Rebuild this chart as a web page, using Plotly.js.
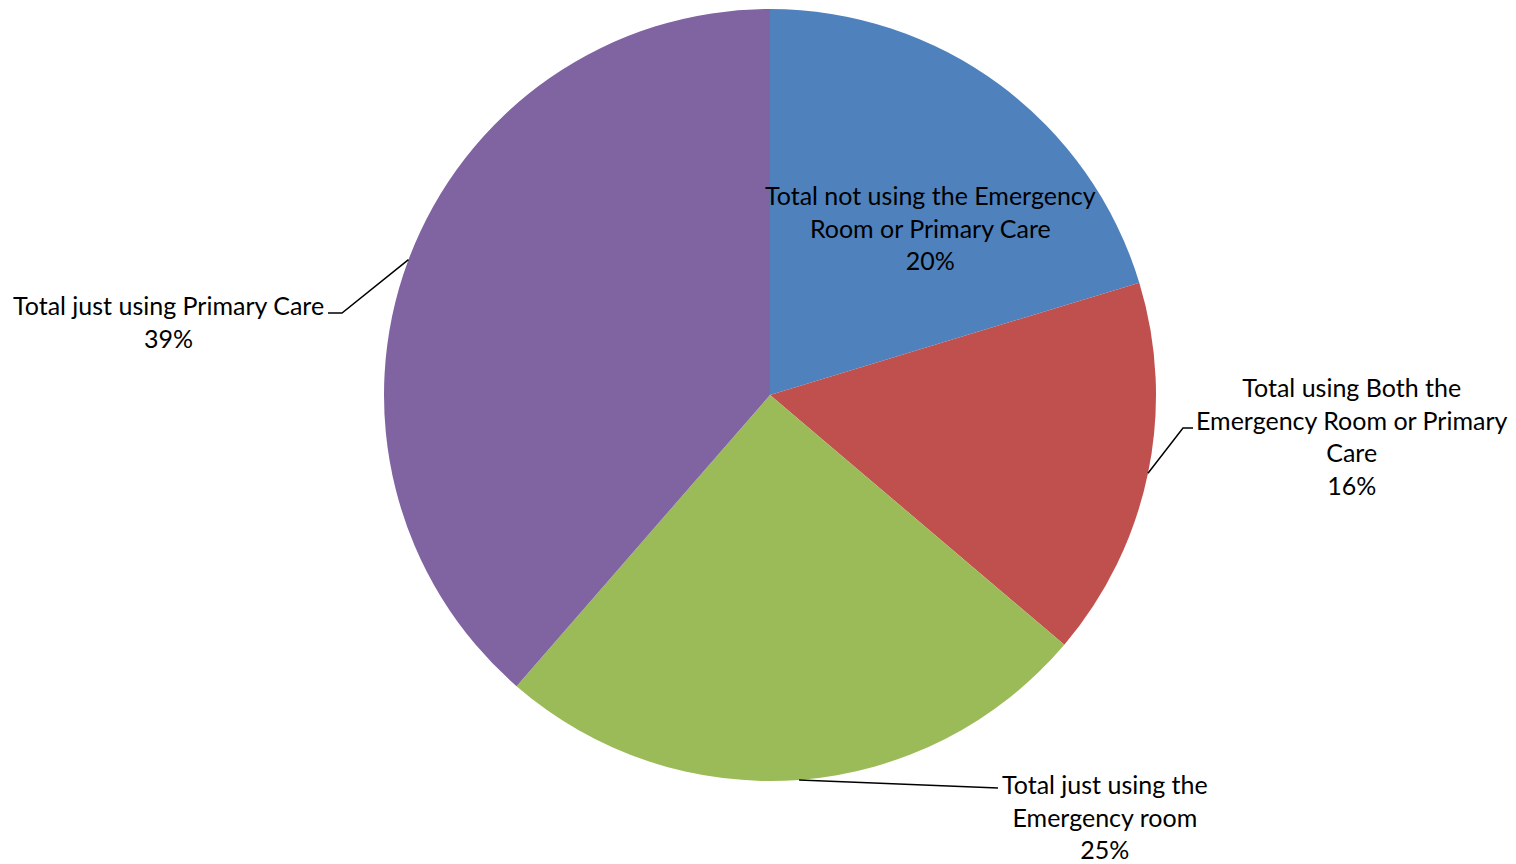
<!DOCTYPE html>
<html>
<head>
<meta charset="utf-8">
<script src="https://cdn.plot.ly/plotly-3.0.1.min.js"></script>
<style>html,body{margin:0;padding:0;background:#fff;}#chart{width:1516px;height:864px;}</style>
</head>
<body>
<div id="chart"></div>
<script>
const categories = [
  "Total not using the Emergency Room or Primary Care",
  "Total using Both the Emergency Room or Primary Care",
  "Total just using the Emergency room",
  "Total just using Primary Care"
];
const labelLines = [
  ["Total not using the Emergency", "Room or Primary Care"],
  ["Total using Both the", "Emergency Room or Primary", "Care"],
  ["Total just using the", "Emergency room"],
  ["Total just using Primary Care"]
];
const values = [20.3, 15.9, 25.2, 38.6];
const colors = ["#4F81BD", "#C0504D", "#9BBB59", "#8064A2"];

const W = 1516, H = 864;
const cx = 770, cy = 395, R = 386;
const px = x => x / W;
const py = y => 1 - y / H;

const total = values.reduce((a, b) => a + b, 0);
const pct = values.map(v => Math.round(v / total * 100) + "%");

// mid-angle anchor points on the pie edge (clockwise from 12 o'clock)
let cum = 0;
const anchors = values.map(v => {
  const mid = (cum + v / 2) / total * 2 * Math.PI;
  cum += v;
  return [cx + R * Math.sin(mid), cy - R * Math.cos(mid)];
});

// label placement (layout, pixels)
const labelPos = [[930, 228], [1352, 436], [1105, 816], [168, 321]];

const annotations = labelLines.map((lines, i) => ({
  text: lines.concat([pct[i]]).join("<br>"),
  x: px(labelPos[i][0]), y: py(labelPos[i][1]),
  xref: "paper", yref: "paper",
  xanchor: "center", yanchor: "middle",
  showarrow: false,
  font: {family: "Lato, 'Open Sans', sans-serif", size: 25, color: "#000"}
}));

function pathPx(pts) {
  return pts.map((p, k) => (k ? "L" : "M") + px(p[0]) + "," + py(p[1])).join(" ");
}
const leaders = [
  [anchors[1], [1183, 428], [1193, 428]],
  [anchors[2], [998, 788]],
  [anchors[3], [342, 313], [328, 313]]
];
const shapes = leaders.map(pts => ({
  type: "path", xref: "paper", yref: "paper",
  path: pathPx(pts),
  line: {color: "#000", width: 1.5}
}));

const data = [{
  type: "pie",
  labels: categories,
  values: values,
  sort: false,
  direction: "clockwise",
  rotation: 0,
  marker: {colors: colors, line: {width: 0}},
  textinfo: "none",
  hoverinfo: "label+percent",
  domain: {x: [px(cx - R), px(cx + R)], y: [py(cy + R), py(cy - R)]}
}];

const layout = {
  width: W, height: H,
  margin: {l: 0, r: 0, t: 0, b: 0},
  showlegend: false,
  paper_bgcolor: "#fff",
  annotations: annotations,
  shapes: shapes
};

Plotly.newPlot("chart", data, layout, {displayModeBar: false, staticPlot: true});
</script>
</body>
</html>
